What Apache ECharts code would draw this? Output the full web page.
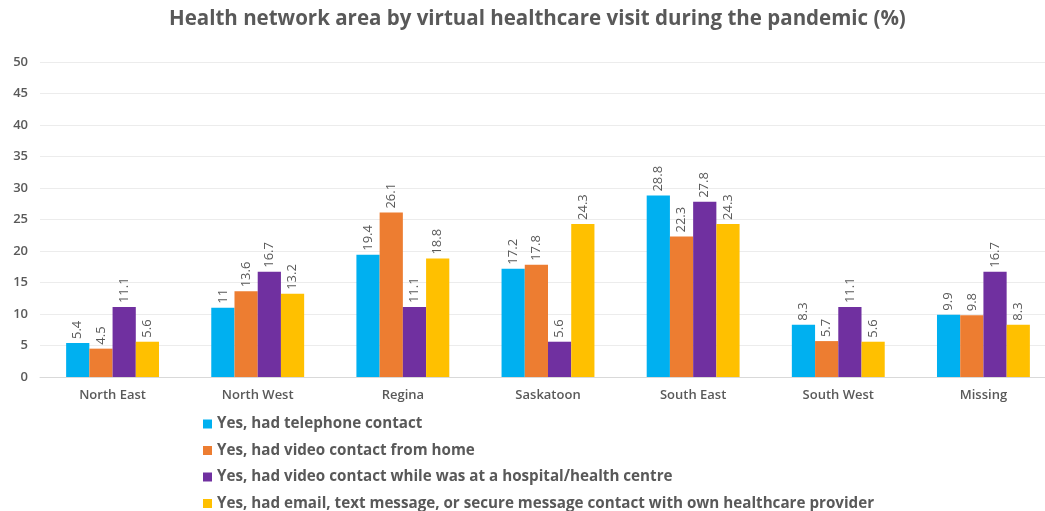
<!DOCTYPE html>
<html>
<head>
<meta charset="utf-8">
<script src="https://cdn.jsdelivr.net/npm/echarts@6/dist/echarts.min.js"></script>
<style>
  html, body { margin: 0; padding: 0; background: #ffffff; }
  #chart { width: 1045px; height: 511px; }
</style>
</head>
<body>
<div id="chart"></div>
<script>
// Health network areas
const categories = ['North East', 'North West', 'Regina', 'Saskatoon', 'South East', 'South West', 'Missing'];

// Share of respondents (%) per type of virtual visit
const telephone = [5.4, 11, 19.4, 17.2, 28.8, 8.3, 9.9];
const videoHome = [4.5, 13.6, 26.1, 17.8, 22.3, 5.7, 9.8];
const videoHospital = [11.1, 16.7, 11.1, 5.6, 27.8, 11.1, 16.7];
const messageContact = [5.6, 13.2, 18.8, 24.3, 24.3, 5.6, 8.3];

const seriesNames = [
  'Yes, had telephone contact',
  'Yes, had video contact from home',
  'Yes, had video contact while was at a hospital/health centre',
  'Yes, had email, text message, or secure message contact with own healthcare provider'
];
const seriesValues = [telephone, videoHome, videoHospital, messageContact];
const seriesColors = ['#00B0F0', '#ED7D31', '#7030A0', '#FFC000'];

const yTicks = { min: 0, max: 50, interval: 5 };

const textGray = '#595959';
const font = '"Open Sans", "Noto Sans", sans-serif';

const chart = echarts.init(document.getElementById('chart'), null, { renderer: 'canvas' });

chart.setOption({
  animation: false,
  backgroundColor: '#ffffff',
  title: {
    text: 'Health network area by virtual healthcare visit during the pandemic (%)',
    left: 164,
    top: 4,
    textStyle: {
      fontFamily: font,
      fontSize: 20.5,
      fontWeight: 'bold',
      color: textGray
    }
  },
  legend: {
    orient: 'vertical',
    left: 203,
    top: 416,
    height: 200,
    padding: 0,
    itemWidth: 9,
    itemHeight: 9,
    itemGap: 10.5,
    icon: 'rect',
    textStyle: {
      fontFamily: font,
      fontSize: 15.2,
      lineHeight: 16,
      fontWeight: 'bold',
      color: textGray
    },
    data: seriesNames
  },
  grid: {
    left: 40,
    top: 62,
    width: 1016,
    height: 315,
    outerBoundsMode: 'none',
    containLabel: false
  },
  xAxis: {
    type: 'category',
    data: categories,
    axisLine: { lineStyle: { color: '#d9d9d9', width: 1 } },
    axisTick: { show: false },
    axisLabel: {
      fontFamily: font,
      fontSize: 13,
      fontWeight: 600,
      color: textGray,
      margin: 12
    }
  },
  yAxis: {
    type: 'value',
    min: yTicks.min,
    max: yTicks.max,
    interval: yTicks.interval,
    axisLine: { show: false },
    axisTick: { show: false },
    splitLine: { lineStyle: { color: '#ececec', width: 1 } },
    axisLabel: {
      fontFamily: font,
      fontSize: 13,
      fontWeight: 600,
      color: textGray,
      margin: 12
    }
  },
  series: seriesValues.map((vals, i) => ({
    name: seriesNames[i],
    type: 'bar',
    data: vals,
    barGap: '0%',
    barCategoryGap: '36%',
    itemStyle: { color: seriesColors[i] },
    label: {
      show: true,
      position: 'top',
      rotate: 90,
      align: 'left',
      verticalAlign: 'middle',
      distance: 4,
      fontFamily: font,
      fontSize: 13,
      color: textGray
    }
  }))
});
</script>
</body>
</html>
